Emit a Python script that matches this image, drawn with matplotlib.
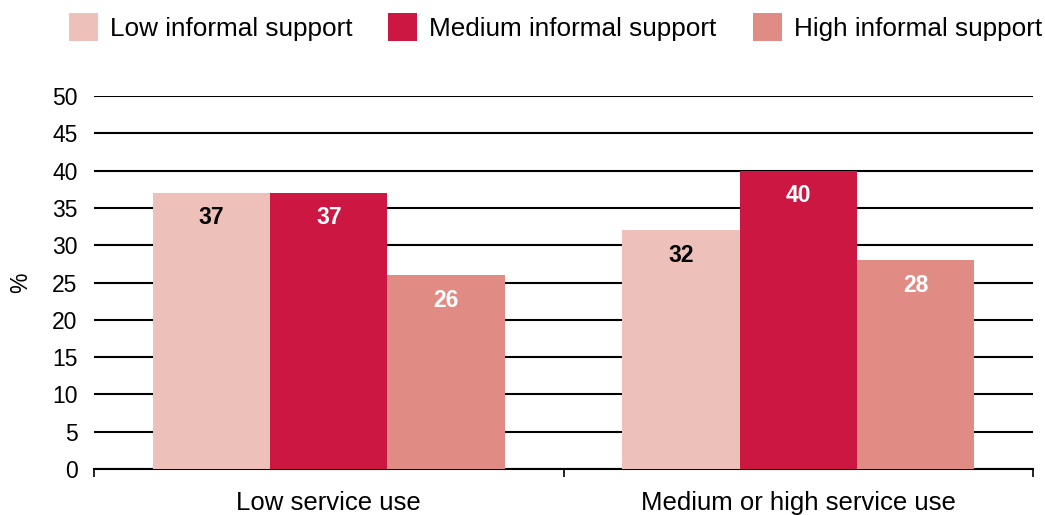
import matplotlib.pyplot as plt
import numpy as np

plt.rcParams['font.family'] = ['Liberation Sans', 'DejaVu Sans']

service_groups = ['Low service use', 'Medium or high service use']
support_levels = ['Low informal support', 'Medium informal support', 'High informal support']
low_support = [37, 32]
medium_support = [37, 40]
high_support = [26, 28]

colors = ['#EDC0BA', '#CC1742', '#E08C84']
label_colors = ['black', 'white', 'white']

fig = plt.figure(figsize=(10.45, 5.15), dpi=100)
ax = fig.add_axes([0.09, 0.0893, 0.8986, 0.7243])

x = np.arange(len(service_groups))
width = 0.25
series = [low_support, medium_support, high_support]
for i, (vals, name) in enumerate(zip(series, support_levels)):
    pos = x + (i - 1) * width
    bars = ax.bar(pos, vals, width, color=colors[i], label=name, zorder=3)
    for b, v in zip(bars, vals):
        # value printed just below the bar top
        ax.annotate(str(v), (b.get_x() + b.get_width() / 2, v), xytext=(0, -25),
                    textcoords='offset pixels',
                    ha='center', va='center', fontsize=16.5, fontweight='bold',
                    color=label_colors[i], zorder=4)

ax.set_ylim(0, 50)
ax.set_xlim(-0.5, 1.5)
ax.set_yticks(range(0, 51, 5))
ax.yaxis.grid(True, color='black', linewidth=1.5, zorder=0)
ax.tick_params(axis='y', length=0, labelsize=16.5, pad=12)
ax.set_xticks(x)
ax.set_xticklabels(service_groups, fontsize=18.5)
ax.tick_params(axis='x', length=0, pad=16)
ax.set_xticks([-0.5, 0.5, 1.5], minor=True)
ax.tick_params(axis='x', which='minor', length=6, width=1.2, color='black')
for s in ['left', 'right', 'top']:
    ax.spines[s].set_visible(False)
ax.spines['bottom'].set_linewidth(1.5)
ax.set_ylabel('%', fontsize=16.5, labelpad=14)

fig.legend(loc='upper left', bbox_to_anchor=(0.0483, 1.01), ncol=3, frameon=False,
           fontsize=18.8, handlelength=1.11, handleheight=1.25, handletextpad=0.46,
           columnspacing=1.38, borderaxespad=0.3)

fig.savefig('out.png', dpi=100)
